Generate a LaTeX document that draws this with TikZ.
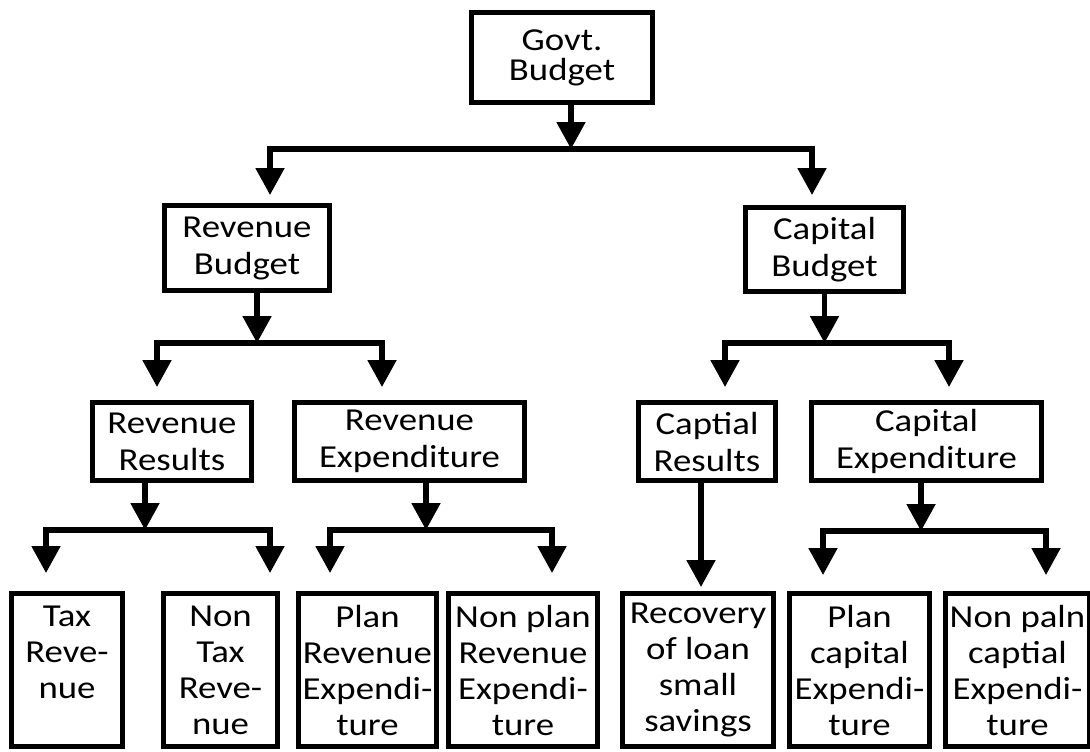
\documentclass[tikz,border=0pt]{standalone}
\usepackage{fontspec}
\setmainfont{Carlito}[FakeStretch=1.15]
\usepackage{tikz}
\usetikzlibrary{arrows.meta}
\usetikzlibrary{positioning}
\tikzset{budget-line/.style={line width=2.6pt}}
\tikzset{>={Triangle[width=14pt,length=13.5pt]}}
\tikzset{budget-node/.style={draw, line width=2.3pt, inner sep=2pt, align=center, font=\fontsize{16pt}{18.5pt}\selectfont}}
\tikzset{budget-leaf/.style={budget-node, minimum height=76.7pt, font=\fontsize{16pt}{18pt}\selectfont}}

\begin{document}
\begin{tikzpicture}[x=0.5pt, y=-0.5pt]
            \useasboundingbox (0,0) rectangle (1090,751);

            \node[budget-node, minimum width=90.7pt, minimum height=45.2pt, font=\fontsize{16pt}{15pt}\selectfont] (govt) at (562,57.5) {Govt.\\Budget};

            \node[budget-node, minimum width=82.7pt, minimum height=42.7pt, below=49pt of govt.south west, xshift=-111pt] (revbud) {Revenue\\Budget};
            \node[budget-node, minimum width=79.2pt, minimum height=42.2pt, below=50pt of govt.south east, xshift=84.75pt] (capbud) {Capital\\Budget};

            \node[budget-node, minimum width=79.7pt, minimum height=39.2pt, below=53.5pt of revbud.south west, xshift=5pt] (revres) {Revenue\\Results};
            \node[budget-node, minimum width=115.2pt, minimum height=39.2pt, below=53.5pt of revbud.south east, xshift=38.75pt] (revexp) {Revenue\\Expenditure};

            \node[budget-node, minimum width=68.7pt, minimum height=39.2pt, below=53pt of capbud.south west, xshift=-18pt] (capres) {Captial\\Results};
            \node[budget-node, minimum width=115.2pt, minimum height=39.2pt, below=53pt of capbud.south east, xshift=10.25pt] (capexp) {Capital\\Expenditure};

            \node[budget-leaf, minimum width=55.7pt, below=54pt of revres.south west, xshift=-11.5pt] (taxrev) {Tax\\Reve-\\nue\\\mbox{}};
            \node[budget-leaf, minimum width=57.2pt, below=54pt of revres.south east, xshift=-16.75pt] (ntaxrev) {Non\\Tax\\Reve-\\nue};

            \node[budget-leaf, minimum width=67.2pt, below=54pt of revexp.south west, xshift=37.75pt] (planrev) {Plan\\Revenue\\Expendi-\\ture};
            \node[budget-leaf, minimum width=74.7pt, below=54pt of revexp.south east, xshift=-2pt] (nplanrev) {Non plan\\Revenue\\Expendi-\\ture};

            \node[budget-leaf, minimum width=75.7pt, below=54pt of capres.south, xshift=-4.5pt] (recov) {Recovery\\of loan\\small\\savings};

            \node[budget-leaf, minimum width=70.2pt, below=54pt of capexp.south west, xshift=25.25pt] (plancap) {Plan\\capital\\Expendi-\\ture};
            \node[budget-leaf, minimum width=68.2pt, below=54pt of capexp.south east, xshift=-13.25pt] (nplancap) {Non paln\\captial\\Expendi-\\ture};

            \coordinate (j-govt) at ([xshift=4.5pt, yshift=-22pt]govt.south);
            \coordinate (j-revbud) at ([xshift=5pt, yshift=-25pt]revbud.south);
            \coordinate (j-capbud) at ([yshift=-24.5pt]capbud.south);
            \coordinate (j-revres) at ([xshift=-13.5pt, yshift=-23.5pt]revres.south);
            \coordinate (j-revexp) at ([xshift=8.25pt, yshift=-23.5pt]revexp.south);
            \coordinate (j-capexp) at ([xshift=-2.75pt, yshift=-24pt]capexp.south);

            \draw[->, budget-line] ([xshift=4.5pt]govt.south) -- (j-govt);
            \draw[->, budget-line, shorten >=4pt] (j-govt) -| ([xshift=11.5pt]revbud.north);
            \draw[->, budget-line, shorten >=5pt] (j-govt) -| ([xshift=-6.25pt]capbud.north);

            \draw[->, budget-line] ([xshift=5pt]revbud.south) -- (j-revbud);
            \draw[->, budget-line, shorten >=6.5pt] (j-revbud) -| ([xshift=-7.5pt]revres.north);
            \draw[->, budget-line, shorten >=6.5pt] (j-revbud) -| ([xshift=-13.75pt]revexp.north);

            \draw[->, budget-line] (capbud.south) -- (j-capbud);
            \draw[->, budget-line, shorten >=6.5pt] (j-capbud) -| ([xshift=9pt]capres.north);
            \draw[->, budget-line, shorten >=6.5pt] (j-capbud) -| ([xshift=11.25pt]capexp.north);

            \draw[->, budget-line] ([xshift=-13.5pt]revres.south) -- (j-revres);
            \draw[->, budget-line, shorten >=9pt] (j-revres) -| ([xshift=-10.5pt]taxrev.north);
            \draw[->, budget-line, shorten >=9pt] (j-revres) -| ([xshift=24.75pt]ntaxrev.north);

            \draw[->, budget-line] ([xshift=8.25pt]revexp.south) -- (j-revexp);
            \draw[->, budget-line, shorten >=9pt] (j-revexp) -| ([xshift=-18.75pt]planrev.north);
            \draw[->, budget-line, shorten >=9pt] (j-revexp) -| ([xshift=14.5pt]nplanrev.north);

            \draw[->, budget-line, shorten >=2pt] ([xshift=-3pt]capres.south) -- ([xshift=1.5pt]recov.north);

            \draw[->, budget-line] ([xshift=-2.75pt]capexp.south) -- (j-capexp);
            \draw[->, budget-line, shorten >=8pt] (j-capexp) -| ([xshift=-18.25pt]plancap.north);
            \draw[->, budget-line, shorten >=8pt] (j-capexp) -| ([xshift=14.25pt]nplancap.north);
        \end{tikzpicture}
\end{document}
